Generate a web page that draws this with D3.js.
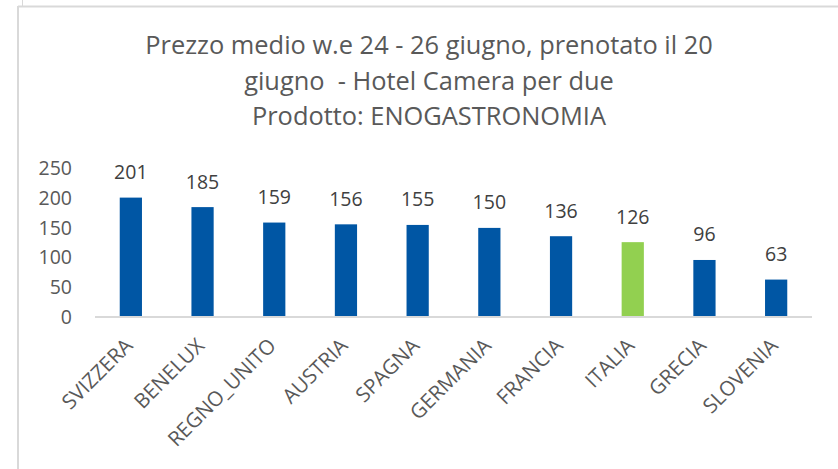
<!DOCTYPE html>
<html>
<head>
<meta charset="utf-8">
<script src="https://cdn.jsdelivr.net/npm/d3@7"></script>
<style>
  body { margin: 0; background: #fff; }
  svg { display: block; font-family: 'Open Sans', sans-serif; }
</style>
</head>
<body>
<div id="chart"></div>
<script>
const categories = ['SVIZZERA', 'BENELUX', 'REGNO_UNITO', 'AUSTRIA', 'SPAGNA', 'GERMANIA', 'FRANCIA', 'ITALIA', 'GRECIA', 'SLOVENIA'];
const values = [201, 185, 159, 156, 155, 150, 136, 126, 96, 63];
const highlight = 'ITALIA';
const yTicks = [0, 50, 100, 150, 200, 250];
const titleLines = ['Prezzo medio w.e 24 - 26 giugno, prenotato il 20', 'giugno  - Hotel Camera per due', 'Prodotto: ENOGASTRONOMIA'];

const width = 838, height = 469;
const font = "'Open Sans', sans-serif";
const textColor = '#595959';
const gridColor = '#d9d9d9';

const svg = d3.select('#chart').append('svg')
  .attr('width', width)
  .attr('height', height);

// cell borders of the sheet behind the chart
svg.append('line').attr('x1', 18).attr('x2', 18).attr('y1', 6).attr('y2', height)
  .attr('stroke', gridColor).attr('stroke-width', 2);
svg.append('line').attr('x1', 18).attr('x2', width).attr('y1', 6.5).attr('y2', 6.5)
  .attr('stroke', gridColor).attr('stroke-width', 2);
svg.append('line').attr('x1', 22.5).attr('x2', 22.5).attr('y1', 0).attr('y2', 6)
  .attr('stroke', gridColor).attr('stroke-width', 1);

// title
svg.append('text')
  .attr('text-anchor', 'middle')
  .attr('fill', textColor)
  .attr('font-size', 25.4)
  .style('white-space', 'pre')
  .selectAll('tspan')
  .data(titleLines)
  .join('tspan')
  .attr('x', 429)
  .attr('y', (d, i) => 54 + i * 35.5)
  .text(d => d);

const x = d3.scaleBand()
  .domain(categories)
  .range([95, 812])
  .paddingInner(0.69)
  .paddingOuter(0.345);

const y = d3.scaleLinear()
  .domain([0, 250])
  .range([317, 168.5]);

// y axis labels
const yAxis = svg.append('g')
  .attr('transform', 'translate(72,0)')
  .call(d3.axisLeft(y).tickValues(yTicks).tickSize(0).tickPadding(0));
yAxis.select('.domain').remove();
yAxis.selectAll('text')
  .attr('fill', textColor)
  .attr('font-size', 19.5)
  .attr('font-family', font);

// bars
svg.append('g')
  .selectAll('rect')
  .data(categories)
  .join('rect')
  .attr('x', d => x(d))
  .attr('width', x.bandwidth())
  .attr('y', (d, i) => y(values[i]))
  .attr('height', (d, i) => y(0) - y(values[i]))
  .attr('fill', d => d === highlight ? '#92d050' : '#0056a4');

// data labels
svg.append('g')
  .selectAll('text')
  .data(categories)
  .join('text')
  .attr('x', d => x(d) + x.bandwidth() / 2)
  .attr('y', (d, i) => y(values[i]) - 18.5)
  .attr('text-anchor', 'middle')
  .attr('fill', '#404040')
  .attr('font-size', 19.5)
  .text((d, i) => values[i]);

// x axis
const xAxis = svg.append('g')
  .attr('transform', `translate(0,${y(0)})`)
  .call(d3.axisBottom(x).tickSize(0).tickPadding(0));
xAxis.select('.domain')
  .attr('stroke', gridColor)
  .attr('stroke-width', 2)
  .attr('d', `M95,0H812`);
xAxis.selectAll('text')
  .attr('fill', textColor)
  .attr('font-size', 20.5)
  .attr('font-family', font)
  .attr('text-anchor', 'end')
  .attr('dy', null)
  .attr('y', null)
  .attr('transform', 'translate(3,30) rotate(-45)');
</script>
</body>
</html>
